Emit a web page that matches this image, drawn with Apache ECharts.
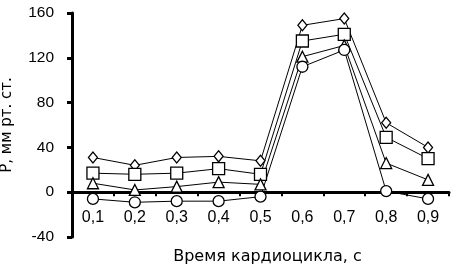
<!DOCTYPE html>
<html><head><meta charset="utf-8">
<script src="https://cdn.jsdelivr.net/npm/echarts@6/dist/echarts.min.js"></script>
<style>html,body{margin:0;padding:0;background:#fff}#c{width:453px;height:267px}</style>
</head><body><div id="c"></div>
<script>
const categories = ['0,1','0,2','0,3','0,4','0,5','0,6','0,7','0,8','0,9'];
const diamondVals  = [31, 24, 31, 32, 28, 149, 155, 62, 40];
const squareVals   = [17, 16, 17, 21, 16, 135, 141, 49, 30];
const triangleVals = [8, 2, 5, 9, 7, 121, 131, 26, 11];
const circleVals   = [-6, -9, -8, -8, -4, 112, 127, 1, -6];
const yTicks = [-40, 0, 40, 80, 120, 160];

const font = 'Liberation Sans, Arial, sans-serif';
const nameFont = 'DejaVu Sans, sans-serif';
const W = 453, H = 267, gTop = 13, gBottom = 30, yMin = -40, yMax = 160;
// shift x axis up so it sits on y = 0
const xOffset = -(H - gTop - gBottom) * (0 - yMin) / (yMax - yMin);

function mk(name, data, symbol, size) {
  return {
    name, type: 'line', data, symbol, symbolSize: size,
    lineStyle: { color: '#000', width: 1 },
    itemStyle: { color: '#fff', borderColor: '#000', borderWidth: 1.3 },
    animation: false
  };
}
const chart = echarts.init(document.getElementById('c'));
chart.setOption({
  backgroundColor: '#fff',
  grid: { left: 72, right: 4, top: gTop, bottom: gBottom, containLabel: false, outerBoundsMode: 'none' },
  xAxis: {
    type: 'category', data: categories, boundaryGap: true, offset: xOffset,
    axisLine: { onZero: false, lineStyle: { color: '#000', width: 3 } },
    axisTick: { show: true, length: 4, lineStyle: { color: '#000', width: 2 } },
    axisLabel: { color: '#000', fontSize: 16, fontFamily: font, margin: 17 },
    name: 'Время кардиоцикла, с', nameLocation: 'middle', nameGap: 57,
    nameTextStyle: { color: '#000', fontSize: 16, fontFamily: nameFont, padding: [0, 0, 0, 14] }
  },
  yAxis: {
    type: 'value', min: yMin, max: yMax, interval: 40,
    axisLine: { show: true, lineStyle: { color: '#000', width: 3 } },
    axisTick: { show: true, length: 5, lineStyle: { color: '#000', width: 3 } },
    splitLine: { show: false },
    axisLabel: { color: '#000', fontSize: 15.5, fontFamily: font, margin: 18,
      formatter: v => yTicks.includes(v) ? String(v) : '' },
    name: 'Р, мм рт. ст.', nameLocation: 'middle', nameGap: 57,
    nameTextStyle: { color: '#000', fontSize: 15, fontFamily: nameFont }
  },
  series: [
    mk('d', diamondVals, 'diamond', [9, 11]),
    mk('s', squareVals, 'rect', 12),
    mk('t', triangleVals, 'triangle', 11),
    mk('c', circleVals, 'circle', 11)
  ]
});
</script></body></html>
